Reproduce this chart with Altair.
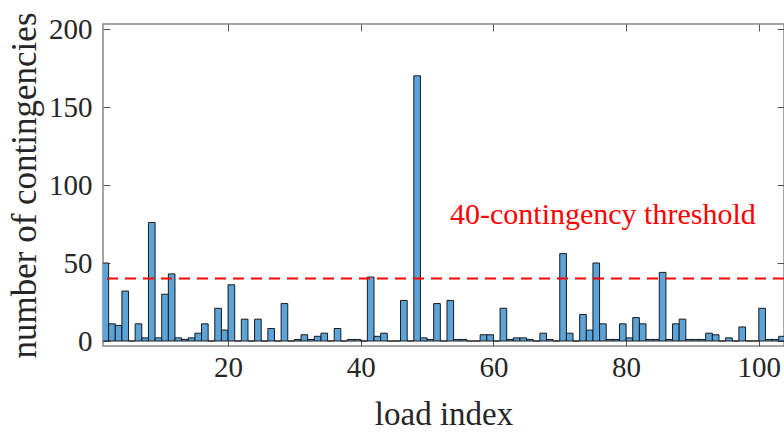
import altair as alt
import pandas as pd

load_index = list(range(1, 104))
contingencies = [
    50, 11, 10, 32, 0, 11, 2, 76, 2, 30,
    43, 2, 1, 2, 5, 11, 0, 21, 7, 36,
    0, 14, 0, 14, 0, 8, 0, 24, 0, 1,
    4, 1, 3, 5, 0, 8, 0, 1, 1, 0,
    41, 3, 5, 0, 0, 26, 0, 170, 2, 1,
    24, 0, 26, 1, 1, 0, 0, 4, 4, 0,
    21, 1, 2, 2, 1, 0, 5, 1, 0, 56,
    5, 0, 17, 7, 50, 11, 1, 1, 11, 2,
    15, 11, 1, 1, 44, 1, 11, 14, 1, 1,
    1, 5, 4, 0, 2, 0, 9, 0, 0, 21,
    1, 1, 3,
]
threshold = 40
threshold_label = "40-contingency threshold"
x_ticks = [20, 40, 60, 80, 100]
y_ticks = [0, 50, 100, 150, 200]

df = pd.DataFrame({
    "load": load_index,
    "load_end": [i + 1 for i in load_index],
    "count": contingencies,
})

FONT = "Liberation Serif"
TXT = "#262626"
xs = alt.Scale(domain=[1.15, 103.8], nice=False, zero=False)
ys = alt.Scale(domain=[0, 200], nice=False, zero=False)

base = alt.Chart(df)

bars = base.mark_bar(color="#5BA4DA", stroke="#1a1a1a", strokeWidth=1, clip=True).encode(
    x=alt.X("load:Q", scale=xs, axis=alt.Axis(
        values=x_ticks, title="load index", ticks=False, domain=False, grid=False,
        labelFont=FONT, labelFontSize=29, labelColor=TXT, labelPadding=7,
        titleFont=FONT, titleFontSize=33, titleFontWeight="normal", titleColor=TXT,
        titlePadding=16)),
    x2="load_end:Q",
    y=alt.Y("count:Q", scale=ys, axis=alt.Axis(
        values=y_ticks, title="number of contingencies", ticks=False, domain=False, grid=False,
        labelFont=FONT, labelFontSize=29, labelColor=TXT, labelPadding=11,
        titleFont=FONT, titleFontSize=35, titleFontWeight="normal", titleColor=TXT,
        titlePadding=6)),
    y2=alt.Y2Datum(0),
)


def tick_axis(values, orient):
    return alt.Axis(values=values, orient=orient, labels=False, title=None, domain=False,
                    grid=False, ticks=True, tickSize=7, offset=-7, tickColor="#555555",
                    tickWidth=1)


ticks_tr = base.mark_bar(opacity=0).encode(
    x=alt.X("load:Q", scale=xs, axis=tick_axis(x_ticks, "top")),
    x2="load_end:Q",
    y=alt.Y("count:Q", scale=ys, axis=tick_axis(y_ticks, "right")),
)
ticks_bl = base.mark_bar(opacity=0).encode(
    x=alt.X("load:Q", scale=xs, axis=tick_axis(x_ticks, "bottom")),
    x2="load_end:Q",
    y=alt.Y("count:Q", scale=ys, axis=tick_axis(y_ticks, "left")),
)

rule = alt.Chart(pd.DataFrame({"t": [threshold]})).mark_rule(
    color="#ff0000", strokeDash=[11, 7], strokeWidth=2
).encode(y=alt.Y("t:Q", scale=ys, axis=None))

label = alt.Chart(pd.DataFrame({"txt": [threshold_label]})).mark_text(
    color="#ff0000", font=FONT, fontSize=30, align="center", baseline="middle"
).encode(
    x=alt.XDatum(76.5, scale=xs, axis=None),
    y=alt.YDatum(81, scale=ys, axis=None),
    text="txt:N",
)

chart = alt.layer(ticks_bl, ticks_tr, bars, rule, label).resolve_axis(
    x="independent", y="independent"
).properties(
    width=681, height=322,
    autosize=alt.AutoSizeParams(type="none"),
    padding={"left": 103, "top": 24, "right": 0, "bottom": 88},
    background="white",
).configure_view(stroke="#888888", strokeWidth=1.5)

chart.save("out.html", embed_options={"renderer": "svg", "actions": False})
